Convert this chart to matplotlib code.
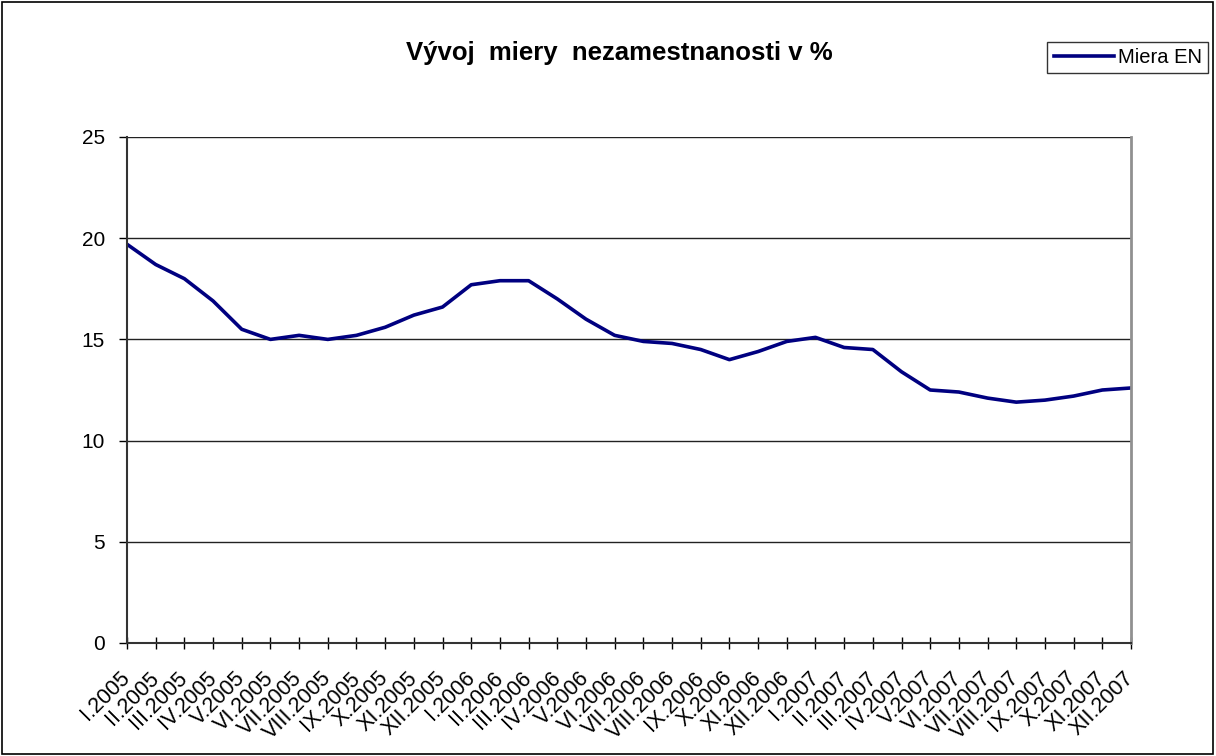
import matplotlib.pyplot as plt
from matplotlib.patches import Rectangle

plt.rcParams['font.family'] = ['Liberation Sans', 'DejaVu Sans']

months = ['I', 'II', 'III', 'IV', 'V', 'VI', 'VII', 'VIII', 'IX', 'X', 'XI', 'XII']
years = ['2005', '2006', '2007']
labels = [f"{m}.{y}" for y in years for m in months]

miera_en = [19.7, 18.7, 18.0, 16.9, 15.5, 15.0, 15.2, 15.0, 15.2, 15.6, 16.2, 16.6,
            17.7, 17.9, 17.9, 17.0, 16.0, 15.2, 14.9, 14.8, 14.5, 14.0, 14.4, 14.9,
            15.1, 14.6, 14.5, 13.4, 12.5, 12.4, 12.1, 11.9, 12.0, 12.2, 12.5, 12.6]

fig = plt.figure(figsize=(12.16, 7.56), dpi=100)
ax = fig.add_axes([127 / 1216, 1 - 643 / 756, (1131 - 127) / 1216, (643 - 137) / 756])

x = list(range(len(labels)))
line, = ax.plot(x, miera_en, color='#000080', lw=2.6, solid_joinstyle='round')

ax.set_xlim(0, len(labels) - 1)
ax.set_ylim(0, 25)
ax.set_yticks([0, 5, 10, 15, 20, 25])
ax.yaxis.grid(True, color='#222222', lw=1.0)
ax.set_axisbelow(True)

ax.set_xticks(x)
ax.set_xticklabels(labels, rotation=45, ha='right', va='center',
                   rotation_mode='anchor', fontsize=15.5)
ax.tick_params(axis='x', direction='inout', length=8, width=1, pad=19)
ax.tick_params(axis='y', direction='out', length=6, width=1, labelsize=15, pad=10)

ax.spines['top'].set_visible(False)
ax.spines['right'].set_color('#909090')
ax.spines['right'].set_linewidth(2)
ax.spines['left'].set_color('#333333')
ax.spines['bottom'].set_color('#333333')
ax.spines['left'].set_linewidth(1.5)
ax.spines['bottom'].set_linewidth(1.5)

fig.text(619 / 1216, 1 - 60 / 756, 'Vývoj  miery  nezamestnanosti v %',
         ha='center', va='baseline', fontsize=18.5, fontweight='bold')

leg = fig.legend([line], ['Miera EN'], loc='upper right',
                 bbox_to_anchor=(1208 / 1216, 1 - 42 / 756), fontsize=14.5,
                 frameon=True, fancybox=False, edgecolor='black', handlelength=3.0,
                 handletextpad=0.2, borderpad=0.3, borderaxespad=0)
leg.get_frame().set_linewidth(1)

fig.patches.append(Rectangle((0.0015, 0.002), 0.996, 0.995, transform=fig.transFigure,
                             fill=False, edgecolor='black', lw=1.2))

fig.savefig('out.png', dpi=100)
